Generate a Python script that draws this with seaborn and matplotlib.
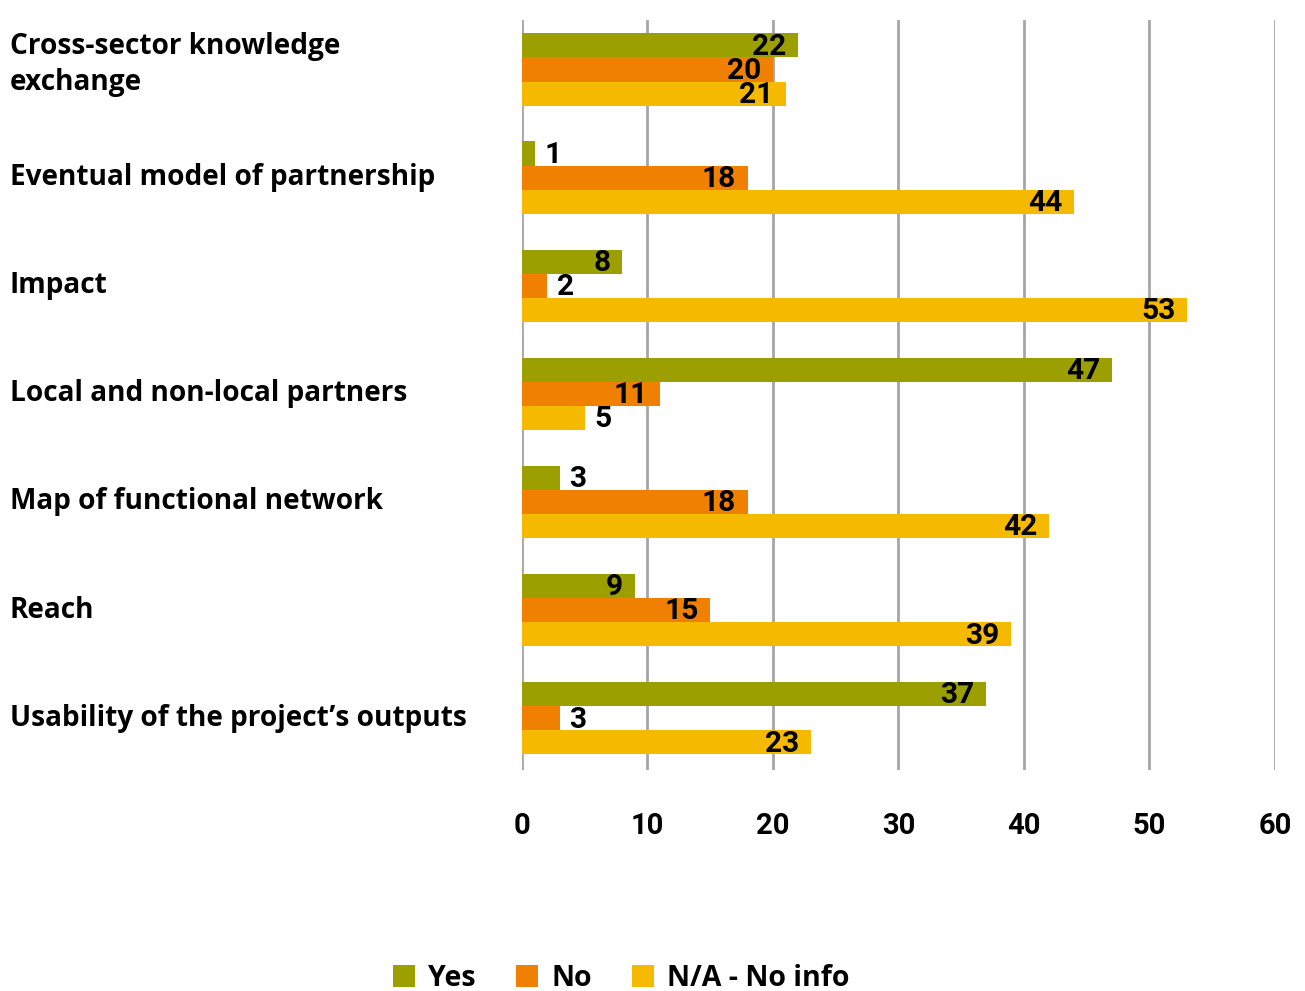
import matplotlib
matplotlib.use("Agg")
import matplotlib.pyplot as plt
import matplotlib.transforms as mtransforms
from matplotlib.patches import Patch
import seaborn as sns
import pandas as pd

categories = [
    "Cross-sector knowledge\nexchange",
    "Eventual model of partnership",
    "Impact",
    "Local and non-local partners",
    "Map of functional network",
    "Reach",
    "Usability of the project\u2019s outputs",
]
series_names = ["Yes", "No", "N/A - No info"]
yes_values = [22, 1, 8, 47, 3, 9, 37]
no_values = [20, 18, 2, 11, 18, 15, 3]
na_values = [21, 44, 53, 5, 42, 39, 23]
x_ticks = [0, 10, 20, 30, 40, 50, 60]
colors = ["#9BA000", "#F08100", "#F5BA00"]

series_values = [yes_values, no_values, na_values]
df = pd.DataFrame({
    "category": [c for _ in series_names for c in categories],
    "answer": [s for s in series_names for _ in categories],
    "count": [v for vals in series_values for v in vals],
})

sns.set_theme(style="white")
label_font = ["Open Sans", "DejaVu Sans"]
num_font = ["Roboto", "DejaVu Sans"]
plt.rcParams["font.family"] = label_font
plt.rcParams["text.color"] = "black"

fig = plt.figure(figsize=(13.05, 9.91), dpi=100)
ax = fig.add_axes([0.4, 0.223, 0.577, 0.757])

sns.barplot(data=df, y="category", x="count", hue="answer",
            order=categories, hue_order=series_names,
            palette=colors, orient="h", width=0.67, saturation=1,
            legend=False, ax=ax)

for patch_set in ax.containers:
    for patch in patch_set:
        patch.set_linewidth(0)

ax.set_xlim(0, 60)
ax.set_ylim(6.48, -0.46)
ax.set_xticks(x_ticks)
ax.xaxis.grid(True, color="#A6A6A6", linewidth=2)
ax.set_axisbelow(True)
for s in ax.spines.values():
    s.set_visible(False)
ax.set_xlabel("")
ax.set_ylabel("")
ax.tick_params(axis="x", length=0, pad=30)
for lbl in ax.get_xticklabels():
    lbl.set_fontfamily(num_font)
    lbl.set_fontweight("bold")
    lbl.set_fontsize(21)
    lbl.set_color("black")

# category names, left-aligned at the figure's left edge
ax.set_yticks(range(len(categories)))
ax.set_yticklabels([])
ax.tick_params(axis="y", length=0)
name_tf = mtransforms.blended_transform_factory(fig.transFigure, ax.transData)
for i, name in enumerate(categories):
    shift = -5 if "\n" in name else 0
    tf = name_tf + mtransforms.ScaledTranslation(0, -shift / 100, fig.dpi_scale_trans)
    ax.text(10 / 1305, i, name, transform=tf, ha="left", va="center",
            fontsize=20.2, fontweight="bold", color="black", linespacing=1.3)

# value labels: inside the bar end when long enough, else just past it
for vals, patch_set in zip(series_values, ax.containers):
    for v, patch in zip(vals, patch_set):
        y = patch.get_y() + patch.get_height() / 2
        x = patch.get_x() + patch.get_width()
        if v >= 8:
            off, ha = -8.5, "right"
        else:
            off, ha = 7, "left"
        ax.annotate(str(v), (x, y), xytext=(off, -1), textcoords="offset points",
                    ha=ha, va="center", fontsize=21.5, fontweight="bold",
                    family=num_font, color="black")

handles = [Patch(facecolor=c, edgecolor="none") for c in colors]
fig.legend(handles, series_names, loc="lower center", bbox_to_anchor=(0.476, -0.028),
           ncol=3, frameon=False, handlelength=0.8, handleheight=0.8,
           handletextpad=0.45, columnspacing=1.4, labelcolor="black",
           prop={"family": label_font, "weight": "bold", "size": 20.5})

fig.savefig("out.png", dpi=100)
